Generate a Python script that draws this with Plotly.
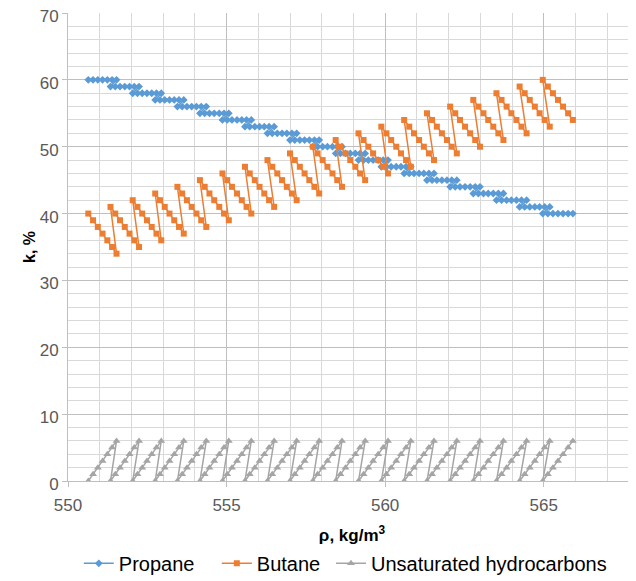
import plotly.graph_objects as go

# Density rho, kg/m3 (one value per mixture, 21 groups of 7)
rho = [
    550.64, 550.79, 550.94, 551.09, 551.24, 551.39, 551.53,
    551.34, 551.49, 551.64, 551.79, 551.94, 552.09, 552.24,
    552.04, 552.19, 552.34, 552.49, 552.64, 552.79, 552.94,
    552.75, 552.90, 553.05, 553.20, 553.35, 553.50, 553.65,
    553.45, 553.60, 553.75, 553.90, 554.05, 554.20, 554.36,
    554.16, 554.31, 554.46, 554.61, 554.77, 554.92, 555.07,
    554.87, 555.02, 555.17, 555.33, 555.48, 555.63, 555.78,
    555.58, 555.73, 555.89, 556.04, 556.19, 556.34, 556.50,
    556.29, 556.44, 556.60, 556.75, 556.90, 557.06, 557.21,
    557.00, 557.15, 557.31, 557.46, 557.61, 557.77, 557.92,
    557.72, 557.87, 558.03, 558.18, 558.34, 558.49, 558.64,
    558.44, 558.59, 558.75, 558.90, 559.06, 559.21, 559.37,
    559.16, 559.32, 559.47, 559.62, 559.78, 559.94, 560.09,
    559.88, 560.04, 560.19, 560.35, 560.50, 560.66, 560.81,
    560.60, 560.76, 560.91, 561.07, 561.22, 561.38, 561.54,
    561.32, 561.48, 561.63, 561.79, 561.95, 562.10, 562.26,
    562.05, 562.21, 562.36, 562.52, 562.68, 562.84, 562.99,
    562.78, 562.94, 563.10, 563.25, 563.41, 563.57, 563.73,
    563.51, 563.67, 563.83, 563.98, 564.14, 564.30, 564.46,
    564.24, 564.40, 564.56, 564.72, 564.87, 565.03, 565.19,
    564.97, 565.13, 565.29, 565.45, 565.61, 565.77, 565.92,
]

propane = [
    60, 60, 60, 60, 60, 60, 60,
    59, 59, 59, 59, 59, 59, 59,
    58, 58, 58, 58, 58, 58, 58,
    57, 57, 57, 57, 57, 57, 57,
    56, 56, 56, 56, 56, 56, 56,
    55, 55, 55, 55, 55, 55, 55,
    54, 54, 54, 54, 54, 54, 54,
    53, 53, 53, 53, 53, 53, 53,
    52, 52, 52, 52, 52, 52, 52,
    51, 51, 51, 51, 51, 51, 51,
    50, 50, 50, 50, 50, 50, 50,
    49, 49, 49, 49, 49, 49, 49,
    48, 48, 48, 48, 48, 48, 48,
    47, 47, 47, 47, 47, 47, 47,
    46, 46, 46, 46, 46, 46, 46,
    45, 45, 45, 45, 45, 45, 45,
    44, 44, 44, 44, 44, 44, 44,
    43, 43, 43, 43, 43, 43, 43,
    42, 42, 42, 42, 42, 42, 42,
    41, 41, 41, 41, 41, 41, 41,
    40, 40, 40, 40, 40, 40, 40,
]

butane = [
    40, 39, 38, 37, 36, 35, 34,
    41, 40, 39, 38, 37, 36, 35,
    42, 41, 40, 39, 38, 37, 36,
    43, 42, 41, 40, 39, 38, 37,
    44, 43, 42, 41, 40, 39, 38,
    45, 44, 43, 42, 41, 40, 39,
    46, 45, 44, 43, 42, 41, 40,
    47, 46, 45, 44, 43, 42, 41,
    48, 47, 46, 45, 44, 43, 42,
    49, 48, 47, 46, 45, 44, 43,
    50, 49, 48, 47, 46, 45, 44,
    51, 50, 49, 48, 47, 46, 45,
    52, 51, 50, 49, 48, 47, 46,
    53, 52, 51, 50, 49, 48, 47,
    54, 53, 52, 51, 50, 49, 48,
    55, 54, 53, 52, 51, 50, 49,
    56, 55, 54, 53, 52, 51, 50,
    57, 56, 55, 54, 53, 52, 51,
    58, 57, 56, 55, 54, 53, 52,
    59, 58, 57, 56, 55, 54, 53,
    60, 59, 58, 57, 56, 55, 54,
]

unsaturated = [
    0, 1, 2, 3, 4, 5, 6,
    0, 1, 2, 3, 4, 5, 6,
    0, 1, 2, 3, 4, 5, 6,
    0, 1, 2, 3, 4, 5, 6,
    0, 1, 2, 3, 4, 5, 6,
    0, 1, 2, 3, 4, 5, 6,
    0, 1, 2, 3, 4, 5, 6,
    0, 1, 2, 3, 4, 5, 6,
    0, 1, 2, 3, 4, 5, 6,
    0, 1, 2, 3, 4, 5, 6,
    0, 1, 2, 3, 4, 5, 6,
    0, 1, 2, 3, 4, 5, 6,
    0, 1, 2, 3, 4, 5, 6,
    0, 1, 2, 3, 4, 5, 6,
    0, 1, 2, 3, 4, 5, 6,
    0, 1, 2, 3, 4, 5, 6,
    0, 1, 2, 3, 4, 5, 6,
    0, 1, 2, 3, 4, 5, 6,
    0, 1, 2, 3, 4, 5, 6,
    0, 1, 2, 3, 4, 5, 6,
    0, 1, 2, 3, 4, 5, 6,
]

x_ticks = [550, 555, 560, 565]
y_ticks = [0, 10, 20, 30, 40, 50, 60, 70]

BLUE = "#5B9BD5"
ORANGE = "#ED7D31"
GRAY = "#A5A5A5"
FONT = "Liberation Sans"

fig = go.Figure()
fig.add_trace(go.Scatter(
    x=rho, y=propane, name="Propane", mode="lines+markers",
    line=dict(color=BLUE, width=1.5),
    marker=dict(symbol="diamond", size=6, color=BLUE),
    legend="legend", showlegend=True,
))
fig.add_trace(go.Scatter(
    x=rho, y=butane, name="Butane", mode="lines+markers",
    line=dict(color=ORANGE, width=1.5),
    marker=dict(symbol="square", size=6, color=ORANGE),
    legend="legend2", showlegend=True,
))
fig.add_trace(go.Scatter(
    x=rho, y=unsaturated, name="Unsaturated hydrocarbons", mode="lines+markers",
    line=dict(color=GRAY, width=1.5),
    marker=dict(symbol="triangle-up", size=7, color=GRAY),
    legend="legend3", showlegend=True,
))

legend_common = dict(orientation="h", y=-0.176, yanchor="middle", xanchor="left",
                     font=dict(family=FONT, size=20, color="#000000"),
                     bgcolor="rgba(0,0,0,0)", borderwidth=0)

# The page adds an 8 px body margin, so the figure is 8 px smaller and margins shifted.
fig.update_layout(
    width=628, height=573,
    showlegend=True,
    margin=dict(l=60, r=0, t=5, b=100, autoexpand=False),
    paper_bgcolor="white", plot_bgcolor="white",
    font=dict(family=FONT, size=17, color="#595959"),
    legend=dict(x=0.019, **legend_common),
    legend2=dict(x=0.262, **legend_common),
    legend3=dict(x=0.463, **legend_common),
    xaxis=dict(
        range=[550, 567.91], tickvals=x_ticks, ticktext=[str(v) for v in x_ticks],
        showgrid=True, gridcolor="#BFBFBF", gridwidth=1,
        minor=dict(dtick=1, tick0=550, showgrid=True, gridcolor="#D9D9D9", gridwidth=1),
        showline=True, linecolor="#BFBFBF", linewidth=1,
        ticks="outside", ticklen=5, tickcolor="#BFBFBF",
        ticklabelstandoff=4,
        zeroline=False,
        title=dict(text="ρ, kg/m<sup>3</sup>", font=dict(family=FONT, size=17, color="#000000", weight="bold"), standoff=14),
    ),
    yaxis=dict(
        range=[0, 70], tickvals=y_ticks, ticktext=[str(v) for v in y_ticks],
        showgrid=True, gridcolor="#BFBFBF", gridwidth=1,
        minor=dict(dtick=2, tick0=0, showgrid=True, gridcolor="#D9D9D9", gridwidth=1),
        showline=True, linecolor="#BFBFBF", linewidth=1,
        ticks="outside", ticklen=5, tickcolor="#BFBFBF",
        ticklabeloverflow="allow", ticklabelshift=3,
        zeroline=False,
        title=dict(text="k, %", font=dict(family=FONT, size=16, color="#000000", weight="bold"), standoff=0),
    ),
)

fig.write_html("out.html")
